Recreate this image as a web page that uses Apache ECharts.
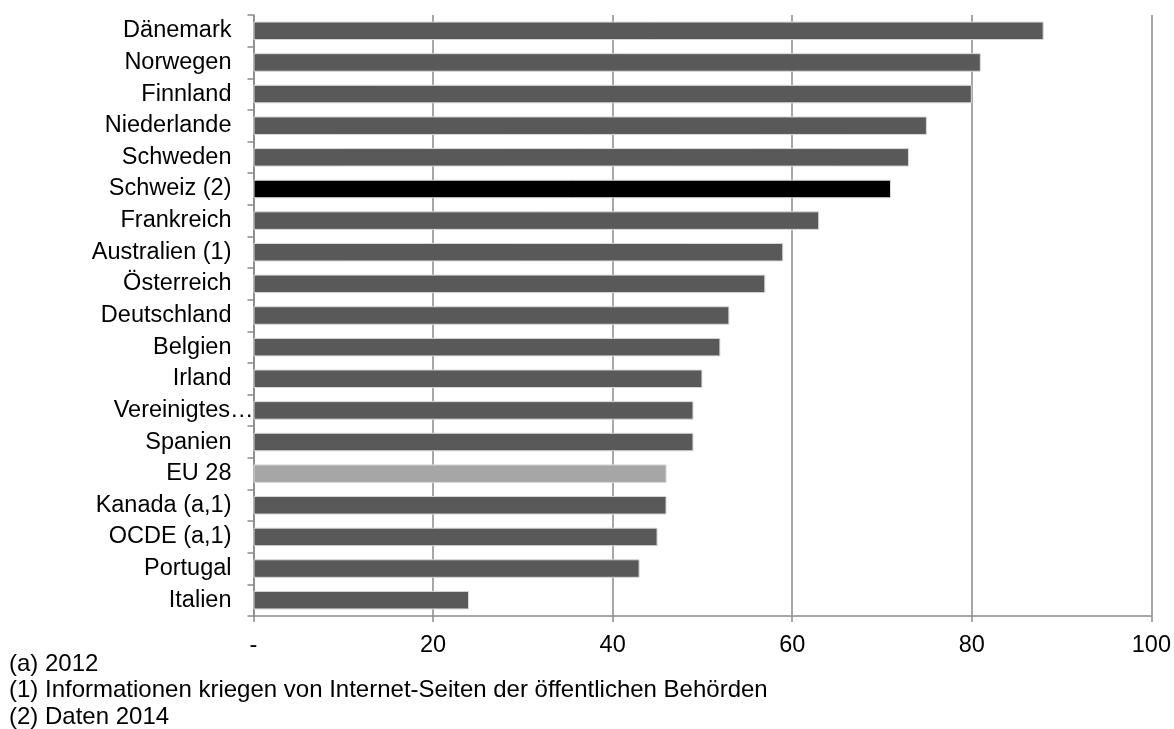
<!DOCTYPE html>
<html><head><meta charset="utf-8">
<script src="https://cdn.jsdelivr.net/npm/echarts@6/dist/echarts.min.js"></script>
<style>html,body{margin:0;padding:0;background:#fff}#c{width:1174px;height:729px}</style>
</head><body><div id="c"></div>
<script>
const categories = ["Dänemark","Norwegen","Finnland","Niederlande","Schweden","Schweiz (2)","Frankreich","Australien (1)","Österreich","Deutschland","Belgien","Irland","Vereinigtes…","Spanien","EU 28","Kanada (a,1)","OCDE (a,1)","Portugal","Italien"];
const values = [88,81,80,75,73,71,63,59,57,53,52,50,49,49,46,46,45,43,24];
const highlight = {"Schweiz (2)":"#000000","EU 28":"#a6a6a6"};
const xTicks = [0,20,40,60,80,100];
const notes = ["(a) 2012","(1) Informationen kriegen von Internet-Seiten der öffentlichen Behörden","(2) Daten 2014"];

const FONT = 'Liberation Sans, Arial, sans-serif';
const FS = 23.5;
const chart = echarts.init(document.getElementById('c'), null, {renderer:'canvas'});
const gray = '#8a8a8a';
chart.setOption({
  animation:false,
  grid:{left:253.5,right:22.5,top:15,bottom:113,containLabel:false},
  xAxis:{type:'value',min:xTicks[0],max:xTicks[xTicks.length-1],interval:xTicks[1]-xTicks[0],
    axisLine:{show:true,lineStyle:{color:gray,width:1.5}},
    axisTick:{show:true,length:6,lineStyle:{color:gray,width:1.5}},
    splitLine:{show:true,lineStyle:{color:gray,width:1.5}},
    axisLabel:{margin:18,color:'#000',fontSize:FS,fontFamily:FONT,
      formatter:v=>v===0?'-':String(v)}},
  yAxis:{type:'category',inverse:true,data:categories,
    axisLine:{show:true,lineStyle:{color:gray,width:1.5}},
    axisTick:{show:true,length:6,lineStyle:{color:gray,width:1.5}},
    axisLabel:{margin:0,color:'#000',fontSize:FS,fontFamily:FONT,
      formatter:v=>v==='Vereinigtes…'?'{v|'+v+'}':'{n|'+v+'}',
      rich:{n:{fontSize:FS,fontFamily:FONT,color:'#000',padding:[0,22,0,0]},
            v:{fontSize:FS,fontFamily:FONT,color:'#000',padding:[0,0,0,0]}}}},
  series:[{type:'bar',data:values.map((v,i)=>({value:v,itemStyle:{color:highlight[categories[i]]||'#595959'}})),
    barWidth:18.5,itemStyle:{borderColor:'#d8d8d8',borderWidth:1}}],
  graphic:notes.map((t,i)=>({type:'text',left:9,top:652+i*26.5,
    style:{text:t,fontSize:24,fontFamily:FONT,fill:'#000'}}))
});
</script></body></html>
